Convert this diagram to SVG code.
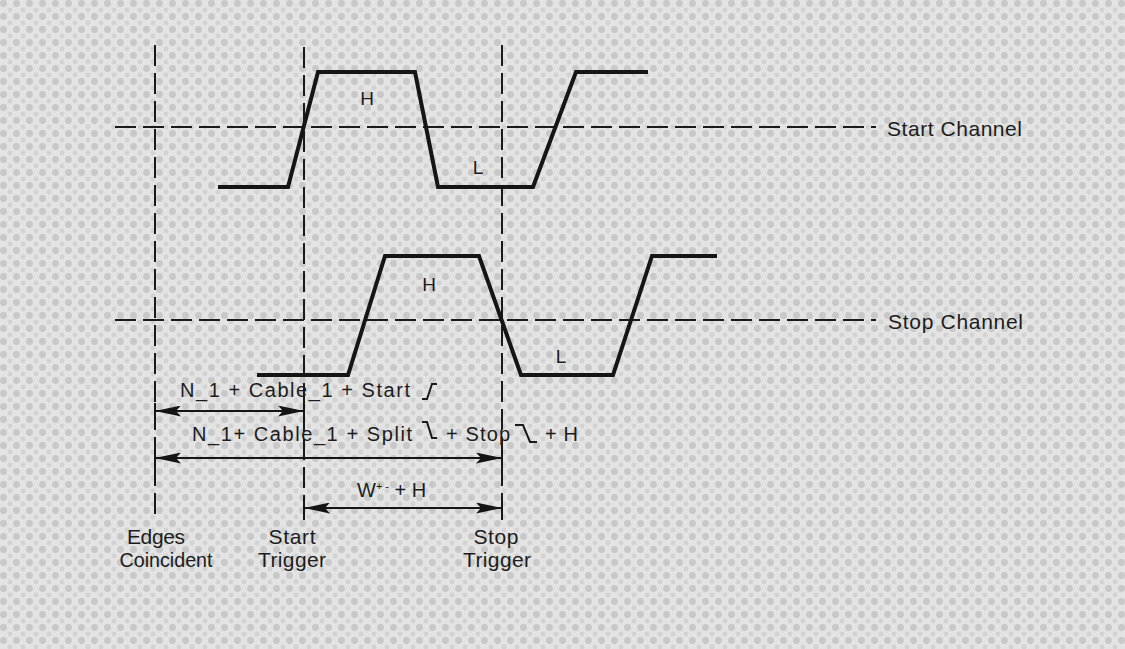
<svg xmlns="http://www.w3.org/2000/svg" width="1125" height="649" viewBox="0 0 1125 649">
<style>
.dash{stroke:#1a1a1a;stroke-width:2;stroke-dasharray:21 7;fill:none}
.wave{stroke:#151515;stroke-width:4;fill:none;stroke-linejoin:miter}
.arr{stroke:#151515;stroke-width:2;fill:none}
.sym{stroke:#1a1a1a;stroke-width:2;fill:none}
.t{font-family:"Liberation Sans",Arial,sans-serif;fill:#1c1c1c;font-size:21px}
.a{font-family:"Liberation Sans",Arial,sans-serif;fill:#1c1c1c;font-size:20px}
.s{font-family:"Liberation Sans",Arial,sans-serif;fill:#1c1c1c;font-size:19px}
</style>
<defs>
<pattern id="ht" width="13" height="13" patternUnits="userSpaceOnUse">
<rect width="13" height="13" fill="#e3e3e3"/>
<circle cx="3.5" cy="3.5" r="3.4" fill="#c8c8c8"/>
<circle cx="10" cy="10" r="2.4" fill="#d2d2d2"/>
</pattern>
<marker id="ah" viewBox="0 0 26 11" refX="26" refY="5.5" markerWidth="26" markerHeight="11" markerUnits="userSpaceOnUse" orient="auto-start-reverse">
<path d="M0,0 L26,5.5 L0,11 L5,5.5 Z" fill="#151515"/>
</marker>
</defs>
<rect width="1125" height="649" fill="url(#ht)"/>

<g id="grid">
<line class="dash" x1="155" y1="45" x2="155" y2="514"/>
<line class="dash" x1="304" y1="47" x2="304" y2="519"/>
<line class="dash" x1="502" y1="45" x2="502" y2="520"/>
<line class="dash" x1="115" y1="127" x2="876" y2="127"/>
<line class="dash" x1="115" y1="320" x2="876" y2="320"/>
</g>

<g id="start-wave">
<polyline class="wave" points="218,187 288,187 318,72 415,72 438,187 533,187 576,72 648,72"/>
<text class="s" x="367" y="105" text-anchor="middle">H</text>
<text class="s" x="478" y="174" text-anchor="middle">L</text>
</g>

<g id="stop-wave">
<polyline class="wave" points="257,375 348,375 385,256 479,256 521,375 613,375 652,256 717,256"/>
<text class="s" x="429" y="291" text-anchor="middle">H</text>
<text class="s" x="561" y="363" text-anchor="middle">L</text>
</g>

<g id="start-channel"><text class="t" x="887" y="136" textLength="135" lengthAdjust="spacing">Start Channel</text></g>
<g id="stop-channel"><text class="t" x="888" y="329" textLength="135" lengthAdjust="spacing">Stop Channel</text></g>

<g id="edges-coincident">
<text class="t" x="156" y="544" text-anchor="middle" textLength="58" lengthAdjust="spacing">Edges</text>
<text class="t" x="166" y="567" text-anchor="middle" font-size="20" textLength="93" lengthAdjust="spacingAndGlyphs">Coincident</text>
</g>
<g id="start-trigger">
<text class="t" x="292" y="544" text-anchor="middle" textLength="47" lengthAdjust="spacing">Start</text>
<text class="t" x="292" y="567" text-anchor="middle" textLength="68" lengthAdjust="spacing">Trigger</text>
</g>
<g id="stop-trigger">
<text class="t" x="496" y="544" text-anchor="middle" textLength="45" lengthAdjust="spacing">Stop</text>
<text class="t" x="497" y="567" text-anchor="middle" textLength="68" lengthAdjust="spacing">Trigger</text>
</g>

<g id="connectors">
<line class="arr" x1="155" y1="411" x2="304" y2="411" marker-start="url(#ah)" marker-end="url(#ah)"/>
<line class="arr" x1="155" y1="458" x2="502" y2="458" marker-start="url(#ah)" marker-end="url(#ah)"/>
<line class="arr" x1="304" y1="508" x2="502" y2="508" marker-start="url(#ah)" marker-end="url(#ah)"/>
<line class="arr" x1="155" y1="403" x2="155" y2="419"/>
<line class="arr" x1="304" y1="403" x2="304" y2="419"/>
<line class="arr" x1="155" y1="450" x2="155" y2="466"/>
<line class="arr" x1="502" y1="450" x2="502" y2="466"/>
<line class="arr" x1="304" y1="498" x2="304" y2="520"/>
<line class="arr" x1="502" y1="498" x2="502" y2="520"/>
</g>

<g id="label-start">
<text class="a" x="180" y="397" textLength="230" lengthAdjust="spacing">N_1 + Cable_1 + Start</text>
<polyline class="sym" points="422,399 427,399 432,384 437,384"/>
</g>
<g id="label-stop">
<text class="a" x="192" y="441" textLength="220" lengthAdjust="spacing">N_1+ Cable_1 + Split</text>
<polyline class="sym" points="422,422 427,422 432,438 437,438"/>
<text class="a" x="446" y="441" textLength="64" lengthAdjust="spacing">+ Stop</text>
<polyline class="sym" points="515,425 523,425 530,442 537,442"/>
<text class="a" x="545" y="441" textLength="33" lengthAdjust="spacing">+ H</text>
</g>
<g id="label-width">
<text class="a" x="357" y="497">W<tspan font-size="11" dy="-7" fill="#1c1c1c">+ -</tspan><tspan dy="7" fill="#1c1c1c"> + H</tspan></text>
</g>
</svg>
